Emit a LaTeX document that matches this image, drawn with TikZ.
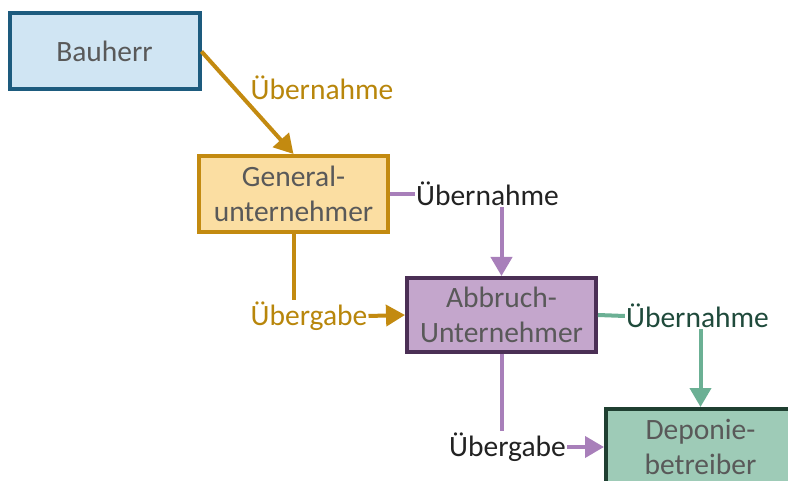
\documentclass[tikz,border=0pt]{standalone}
\usepackage{fontspec}
\setmainfont{Carlito}
\usetikzlibrary{arrows.meta}
\definecolor{bhfill}{HTML}{D0E5F3}
\definecolor{bhdraw}{HTML}{1D5B7E}
\definecolor{gufill}{HTML}{FBDEA2}
\definecolor{gold}{HTML}{C38A10}
\definecolor{goldtext}{HTML}{B8860B}
\definecolor{abfill}{HTML}{C4A6CC}
\definecolor{abdraw}{HTML}{4B2F55}
\definecolor{purp}{HTML}{A87FBA}
\definecolor{defill}{HTML}{9ECBB7}
\definecolor{dedraw}{HTML}{1F3F31}
\definecolor{grn}{HTML}{6BB094}
\definecolor{grntext}{HTML}{1F4A3B}
\definecolor{boxtext}{HTML}{595959}
\definecolor{blk}{HTML}{222222}
\begin{document}
\begin{tikzpicture}[x=1pt,y=-1pt,
  box/.style={draw, line width=4pt, minimum width=189pt, minimum height=76pt,
    inner sep=0pt, align=center, text=boxtext, font=\fontsize{29.5}{35}\selectfont},
  lbl/.style={inner sep=1pt, font=\fontsize{29.5}{35}\selectfont},
  conn/.style={line width=4pt},
  arr/.style={conn, -{Triangle[length=19pt,width=21pt]}}]
\path[use as bounding box, clip] (0,0) rectangle (788,481);
\node[box, fill=bhfill, draw=bhdraw, minimum width=190pt] (bau) at (104.5,51.5) {Bauherr};
\node[box, fill=gufill, draw=gold] (gu) at (293.5,194) {General-\\unternehmer};
\node[box, fill=abfill, draw=abdraw, minimum height=74pt] (ab) at (501.5,315) {Abbruch-\\Unternehmer};
\node[box, fill=defill, draw=dedraw] (de) at (700.5,447) {Deponie-\\betreiber};

\node[lbl, text=goldtext] (l1) at (322,88) {Übernahme};
\node[lbl, text=blk] (l2) at (487.5,194) {Übernahme};
\node[lbl, text=goldtext] (l3) at (309,316) {Übergabe};
\node[lbl, text=grntext] (l4) at (697.5,316) {Übernahme};
\node[lbl, text=blk] (l5) at (507.5,447) {Übergabe};

\draw[arr, draw=gold, fill=gold] (bau.east) -- (gu.north);
\draw[conn, draw=purp] (gu.east) -- (l2.west);
\draw[arr, draw=purp, fill=purp] (l2.south -| ab.north) -- (ab.north);
\draw[conn, draw=gold] (gu.south) -- (gu.south |- l3.north);
\draw[arr, draw=gold, fill=gold] (l3.east) -- (ab.west);
\draw[conn, draw=grn] (ab.east) -- (l4.west);
\draw[arr, draw=grn, fill=grn] (l4.south -| de.north) -- (de.north);
\draw[conn, draw=purp] (ab.south) -- (ab.south |- l5.north);
\draw[arr, draw=purp, fill=purp] (l5.east) -- (de.west);
\end{tikzpicture}
\end{document}
